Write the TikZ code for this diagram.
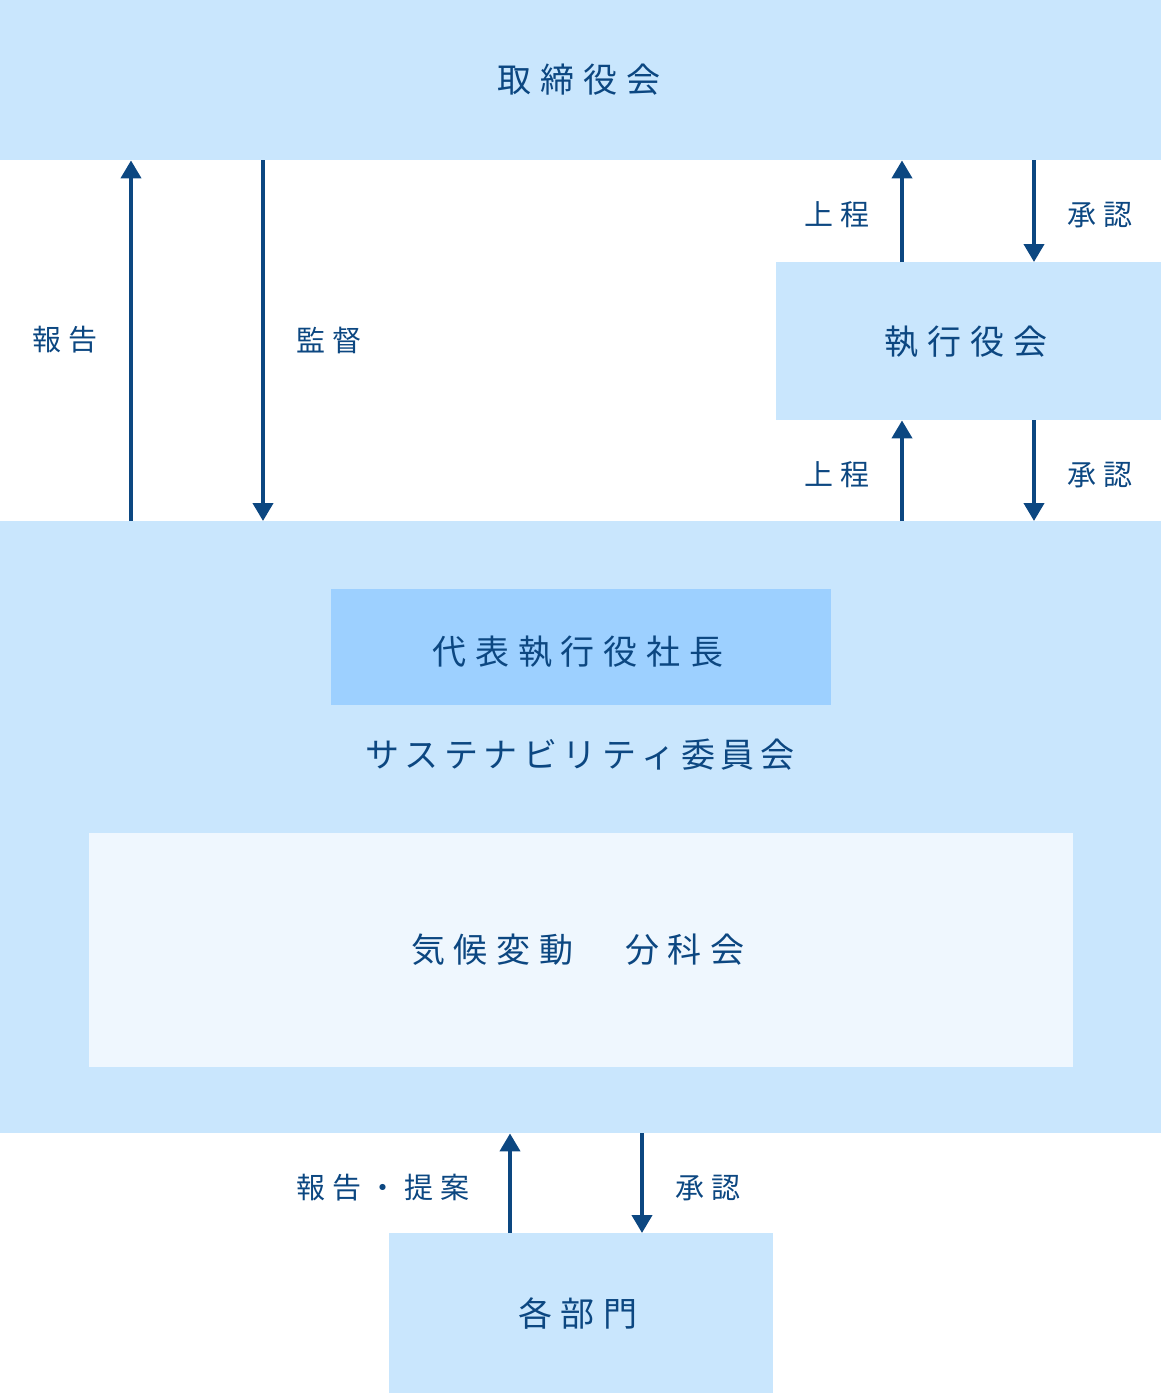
\documentclass[tikz,border=0pt]{standalone}
\usepackage{fontspec}
\setmainfont{Noto Sans CJK JP}
\usetikzlibrary{arrows.meta}
\definecolor{lb}{HTML}{C9E6FD}
\definecolor{mb}{HTML}{9DD0FF}
\definecolor{pb}{HTML}{EFF7FE}
\definecolor{ink}{HTML}{0C4781}
\newlength\lsgap
\def\lsp#1{\lspA#1\relax}
\def\lspA#1#2{#1\ifx\relax#2\else\hspace{\lsgap}\expandafter\lspA\expandafter#2\fi}
\newcommand\bigtxt[2][8.8pt]{\fontsize{34}{40}\selectfont\setlength\lsgap{#1}\lsp{#2}}
\newcommand\smtxt[1]{\fontsize{29}{34}\selectfont\setlength\lsgap{7pt}\lsp{#1}}
\tikzset{
  box/.style={fill=#1, draw=none, inner sep=0pt, anchor=north west, text=ink},
  lbl/.style={inner sep=0pt, text=ink},
  arr/.style={draw=ink, line width=4pt, -{Triangle[width=20pt,length=18pt]}, shorten >=0pt}
}
\begin{document}
\begin{tikzpicture}[x=1pt,y=-1pt]
\useasboundingbox (0,0) rectangle (1161,1393);
% boxes
\node[box=lb, minimum width=1161pt, minimum height=160pt] (top) at (0,0) {};
\node[box=lb, minimum width=385pt, minimum height=158pt] (exec) at (776,262) {};
\node[box=lb, minimum width=1161pt, minimum height=612pt] (big) at (0,521) {};
\node[box=mb, minimum width=500pt, minimum height=116pt] (ceo) at (331,589) {};
\node[box=pb, minimum width=984pt, minimum height=234pt] (wg) at (89,833) {};
\node[box=lb, minimum width=384pt, minimum height=160pt] (dept) at (389,1233) {};
% texts
\node[lbl] (ttop) at (579,80) {\bigtxt{取締役会}};
\node[lbl] (texec) at (966,342) {\bigtxt{執行役会}};
\node[lbl] (tceo) at (578,652) {\bigtxt{代表執行役社長}};
\node[lbl] (tsc) at (580,755) {\bigtxt[5.5pt]{サステナビリティ委員会}};
\node[lbl] (twg) at (578,950) {\bigtxt{気候変動　分科会}};
\node[lbl] (tdept) at (578,1313) {\bigtxt{各部門}};
% arrows
\coordinate (a1) at (131,0); \coordinate (a2) at (263,0);
\coordinate (a3) at (902,0); \coordinate (a4) at (1034,0);
\coordinate (a5) at (510,0); \coordinate (a6) at (642,0);
\draw[arr] (big.north -| a1) -- (top.south -| a1);
\draw[arr] (top.south -| a2) -- (big.north -| a2);
\draw[arr] (exec.north -| a3) -- (top.south -| a3);
\draw[arr] (top.south -| a4) -- (exec.north -| a4);
\draw[arr] (big.north -| a3) -- (exec.south -| a3);
\draw[arr] (exec.south -| a4) -- (big.north -| a4);
\draw[arr] (dept.north -| a5) -- (big.south -| a5);
\draw[arr] (big.south -| a6) -- (dept.north -| a6);
% labels
\node[lbl] (l1) at (65,340) {\smtxt{報告}};
\node[lbl] (l2) at (329,340) {\smtxt{監督}};
\node[lbl] (l3) at (837,215) {\smtxt{上程}};
\node[lbl] (l4) at (1100,215) {\smtxt{承認}};
\node[lbl] (l5) at (837,475) {\smtxt{上程}};
\node[lbl] (l6) at (1100,475) {\smtxt{承認}};
\node[lbl] (l7) at (383,1188) {\smtxt{報告・提案}};
\node[lbl] (l8) at (708,1188) {\smtxt{承認}};
\end{tikzpicture}
\end{document}
